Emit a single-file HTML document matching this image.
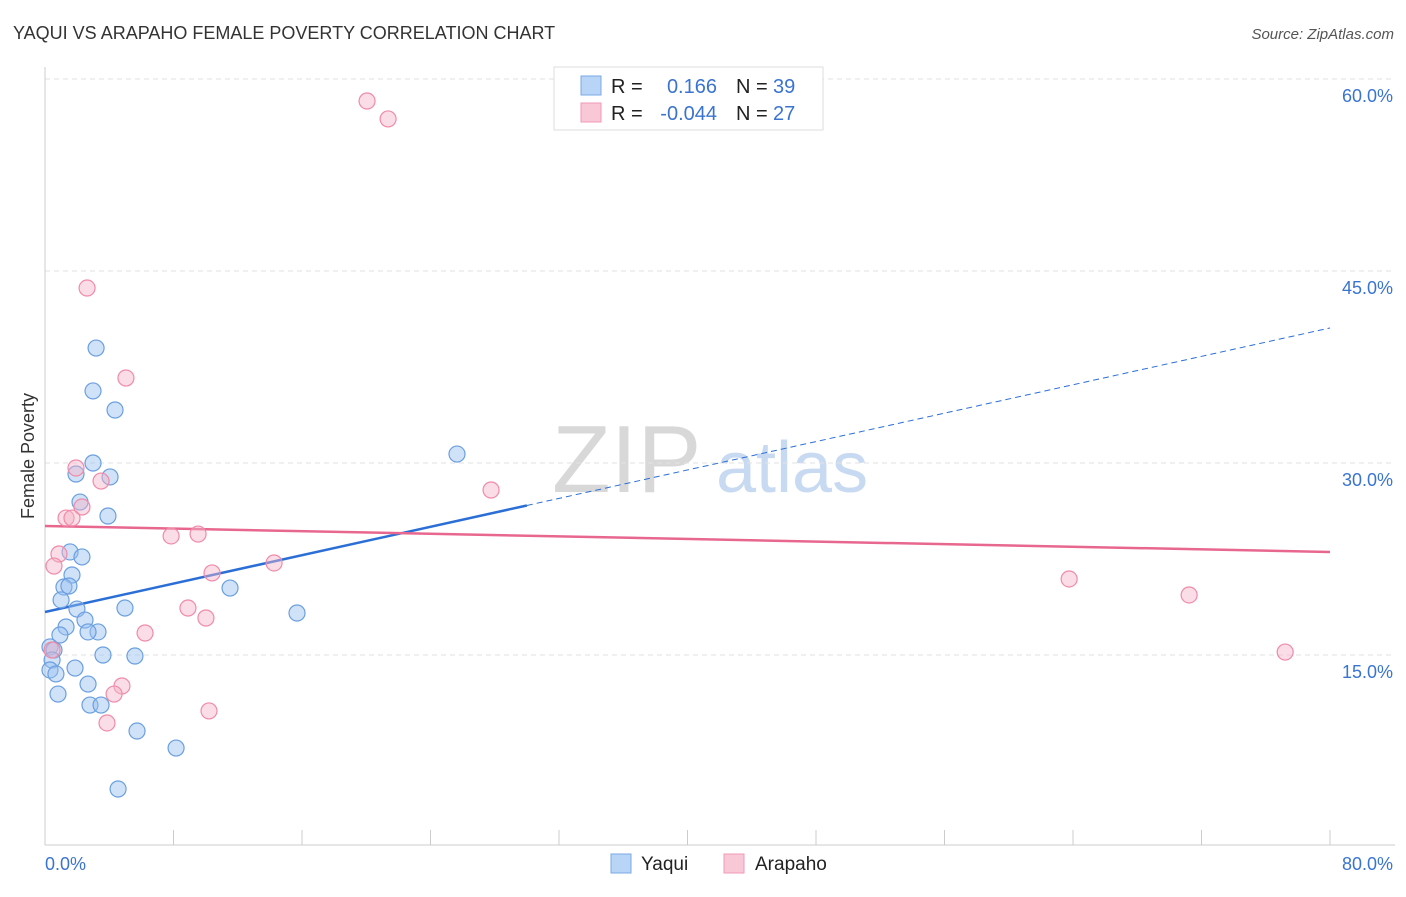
<!DOCTYPE html>
<html><head><meta charset="utf-8"><style>
body{margin:0;background:#fff;font-family:"Liberation Sans",sans-serif}
svg text{font-family:"Liberation Sans",sans-serif}
</style></head><body>
<svg id="chart" width="1406" height="892" xmlns="http://www.w3.org/2000/svg">
<text x="13" y="39" font-size="18" fill="#333">YAQUI VS ARAPAHO FEMALE POVERTY CORRELATION CHART</text>
<text x="1394" y="39" font-size="15" fill="#555" text-anchor="end" font-style="italic">Source: ZipAtlas.com</text>
<g>
<text x="552" y="492" font-size="96" fill="#d8d8d8" font-family="Liberation Serif, serif">ZIP</text>
<text x="716" y="492" font-size="72" fill="#c8daf2">atlas</text>
</g>
<g id="grid"></g>
<g id="axes"></g>
<g id="lines"></g>
<g id="points"></g>
<text transform="translate(34,456) rotate(-90)" font-size="18" fill="#333" text-anchor="middle">Female Poverty</text>
<g>
<rect x="554" y="67" width="269" height="63" fill="#fff" stroke="#ddd"/>
<rect x="581" y="76" width="20" height="19" fill="#b8d4f6" stroke="#7aaae6"/>
<rect x="581" y="103" width="20" height="19" fill="#f9c8d6" stroke="#f09ab4"/>
<text x="611" y="93" font-size="20" fill="#222">R =</text>
<text x="717" y="93" font-size="20" fill="#3a74d0" text-anchor="end">0.166</text>
<text x="736" y="93" font-size="20" fill="#222">N =</text>
<text x="773" y="93" font-size="20" fill="#3a74d0">39</text>
<text x="611" y="120" font-size="20" fill="#222">R =</text>
<text x="717" y="120" font-size="20" fill="#3a74d0" text-anchor="end">-0.044</text>
<text x="736" y="120" font-size="20" fill="#222">N =</text>
<text x="773" y="120" font-size="20" fill="#3a74d0">27</text>
</g>
<g>
<rect x="611" y="854" width="20" height="19" fill="#b8d4f6" stroke="#7aaae6"/>
<text x="641" y="870" font-size="19" fill="#222">Yaqui</text>
<rect x="724" y="854" width="20" height="19" fill="#f9c8d6" stroke="#f09ab4"/>
<text x="755" y="870" font-size="19" fill="#222">Arapaho</text>
</g>
</svg>
<script>
const yTicks=[15,30,45,60];
const yTickLabels=["15.0%","30.0%","45.0%","60.0%"];
const xTicks=[0,8,16,24,32,40,48,56,64,72,80];
const xEndLabels=["0.0%","80.0%"];
const yaquiX=[3.18,2.99,4.36,2.99,1.93,4.05,2.18,3.92,1.56,2.30,1.68,1.18,1.49,1.00,1.99,4.98,11.52,15.69,2.49,1.31,3.30,2.68,0.93,0.31,0.56,0.44,3.61,5.60,1.87,0.31,0.68,2.68,0.81,2.80,3.49,5.73,8.16,4.55,25.65];
const yaquiY=[38.98,35.63,34.14,30.0,29.14,28.91,26.95,25.86,23.05,22.66,21.25,20.31,20.39,19.30,18.59,18.67,20.23,18.28,17.73,17.19,16.80,16.80,16.56,15.63,15.39,14.61,15.0,14.92,13.98,13.83,13.52,12.73,11.95,11.09,11.09,9.06,7.73,4.53,30.70];
const arapahoX=[20.05,21.36,2.62,5.04,1.93,3.49,2.30,1.31,1.68,0.87,0.56,7.85,9.53,14.26,10.40,8.90,10.02,6.23,4.79,4.30,3.86,10.21,27.77,63.76,71.23,77.21,0.44];
const arapahoY=[58.28,56.88,43.67,36.64,29.61,28.59,26.56,25.70,25.70,22.89,21.95,24.30,24.45,22.19,21.41,18.67,17.89,16.72,12.58,11.95,9.69,10.63,27.89,20.94,19.69,15.23,15.39];
const yaquiTrend=[18.36,40.55]; const yaquiSolidEnd=30;
const arapahoTrend=[25.08,23.05];
const NS="http://www.w3.org/2000/svg";
const X=v=>45+v*(1285/80);
const Y=v=>655-(v-15)*12.8;
function mk(tag,attrs,parent){const e=document.createElementNS(NS,tag);for(const k in attrs)e.setAttribute(k,attrs[k]);document.getElementById(parent).appendChild(e);return e;}
yTicks.forEach((t,i)=>{
 const l=mk('line',{x1:45,x2:1395,y1:Y(t),y2:Y(t),stroke:'#e2e2e2','stroke-dasharray':'5,4'},'grid');
 
 
 const tx=mk('text',{x:1393,y:Y(t)+23,'font-size':18,fill:'#3a74d0','text-anchor':'end'},'grid');
 tx.textContent=yTickLabels[i];
 
 
});
let a=mk('line',{x1:45,x2:45,y1:67,y2:845,stroke:'#ccc'},'axes');


a=mk('line',{x1:45,x2:1395,y1:845,y2:845,stroke:'#ccc'},'axes');


xTicks.forEach(t=>{const l=mk('line',{x1:X(t),x2:X(t),y1:830,y2:845,stroke:'#ccc'},'axes');
 
 });
[[0,'start',45],[80,'end',1393]].forEach((d,i)=>{const tx=mk('text',{x:d[2],y:870,'font-size':18,fill:'#3a74d0','text-anchor':d[1]},'axes');tx.textContent=xEndLabels[i];
 
 });
const yAt=(tr,x)=>tr[0]+(tr[1]-tr[0])*x/80;
let ln=mk('line',{x1:X(0),y1:Y(yaquiTrend[0]),x2:X(yaquiSolidEnd),y2:Y(yAt(yaquiTrend,yaquiSolidEnd)),stroke:'#2b6fd6','stroke-width':2.5},'lines');


ln=mk('line',{x1:X(yaquiSolidEnd),y1:Y(yAt(yaquiTrend,yaquiSolidEnd)),x2:X(80),y2:Y(yaquiTrend[1]),stroke:'#2b6fd6','stroke-width':1,'stroke-dasharray':'6,4'},'lines');


ln=mk('line',{x1:X(0),y1:Y(arapahoTrend[0]),x2:X(80),y2:Y(arapahoTrend[1]),stroke:'#e8678f','stroke-width':2.5},'lines');


yaquiX.forEach((x,i)=>{const c=mk('circle',{cx:X(x),cy:Y(yaquiY[i]),r:8,fill:'rgba(150,190,240,0.45)',stroke:'#6a9fe0','stroke-width':1.2},'points');
 
 });
arapahoX.forEach((x,i)=>{const c=mk('circle',{cx:X(x),cy:Y(arapahoY[i]),r:8,fill:'rgba(245,180,200,0.45)',stroke:'#f08aa8','stroke-width':1.2},'points');
 
 });
</script>
</body></html>
